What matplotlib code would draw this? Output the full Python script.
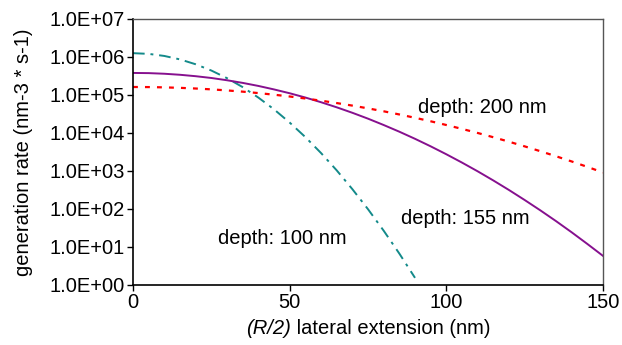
import matplotlib
matplotlib.use("Agg")
import matplotlib.pyplot as plt
from matplotlib.offsetbox import TextArea, HPacker, AnnotationBbox

plt.rcParams['font.family'] = ['Liberation Sans', 'DejaVu Sans']

x_100 = [0, 5, 10, 15, 20, 25, 30, 35, 40, 45, 50, 55, 60, 65, 70, 75, 80, 85, 90]
rate_100 = [1.259e6, 1.207e6, 1.064e6, 8.63e5, 6.43e5, 4.40e5, 2.77e5, 1.61e5, 8.55e4, 4.19e4,
            1.88e4, 7.80e3, 2.97e3, 1.04e3, 333, 98.6, 26.8, 6.70, 1.54]

x_wide = [0, 5, 10, 15, 20, 25, 30, 35, 40, 45, 50, 55, 60, 65, 70, 75,
          80, 85, 90, 95, 100, 105, 110, 115, 120, 125, 130, 135, 140, 145, 150]
rate_155 = [3.80e5, 3.76e5, 3.62e5, 3.40e5, 3.12e5, 2.80e5, 2.44e5, 2.08e5, 1.73e5, 1.40e5,
            1.11e5, 8.57e4, 6.45e4, 4.74e4, 3.40e4, 2.38e4, 1.62e4, 1.08e4, 7.02e3, 4.45e3,
            2.75e3, 1.66e3, 979, 562, 315, 172, 91.9, 47.9, 24.3, 12.0, 5.82]
rate_200 = [1.622e5, 1.613e5, 1.585e5, 1.540e5, 1.479e5, 1.405e5, 1.318e5, 1.223e5, 1.122e5, 1.017e5,
            9.12e4, 8.08e4, 7.08e4, 6.13e4, 5.25e4, 4.44e4, 3.72e4, 3.07e4, 2.51e4, 2.03e4,
            1.62e4, 1.28e4, 1.00e4, 7.72e3, 5.89e3, 4.44e3, 3.31e3, 2.44e3, 1.78e3, 1.28e3, 912]

y_ticks = [1e0, 1e1, 1e2, 1e3, 1e4, 1e5, 1e6, 1e7]
y_labels = ['1.0E+00', '1.0E+01', '1.0E+02', '1.0E+03',
            '1.0E+04', '1.0E+05', '1.0E+06', '1.0E+07']

fig = plt.figure(figsize=(6.22, 3.45), dpi=100)
ax = fig.add_axes([0.2138, 0.174, 0.7557, 0.771])

ax.plot(x_100, rate_100, color='#138a8a', lw=1.4, dashes=(6, 3, 1.5, 3))
ax.plot(x_wide, rate_155, color='#86108e', lw=1.4)
ax.plot(x_wide, rate_200, color='#ff0000', lw=1.6, dashes=(2.2, 3.2))

ax.set_yscale('log')
ax.set_xlim(0, 150)
ax.set_ylim(1, 1e7)
ax.set_xticks([0, 50, 100, 150])
ax.set_yticks(y_ticks)
ax.set_yticklabels(y_labels)
ax.minorticks_off()
ax.tick_params(direction='out', length=4.5, width=1, labelsize=14.5, pad=1.5)

for side in ['left', 'bottom']:
    ax.spines[side].set_color('black')
    ax.spines[side].set_linewidth(1.2)
for side in ['top', 'right']:
    ax.spines[side].set_color('#555555')
    ax.spines[side].set_linewidth(1.0)

ax.set_ylabel('generation rate (nm-3 * s-1)', fontsize=14.5)
ax.yaxis.set_label_coords(-0.213, 0.5)

# x label: italic "(R/2)" followed by upright text
lab_it = TextArea('(R/2)', textprops=dict(fontsize=14.5, fontstyle='italic'))
lab_rm = TextArea(' lateral extension (nm)', textprops=dict(fontsize=14.5))
xlab = HPacker(children=[lab_it, lab_rm], align='baseline', pad=0, sep=0)
ab = AnnotationBbox(xlab, (0.5, -0.127), xycoords='axes fraction',
                    box_alignment=(0.5, 1.0), frameon=False)
ax.add_artist(ab)

ax.text(91, 10**4.66, 'depth: 200 nm', fontsize=14.5, va='center')
ax.text(85.5, 10**1.74, 'depth: 155 nm', fontsize=14.5, va='center')
ax.text(27, 10**1.21, 'depth: 100 nm', fontsize=14.5, va='center')

fig.savefig('out.png', dpi=100)
